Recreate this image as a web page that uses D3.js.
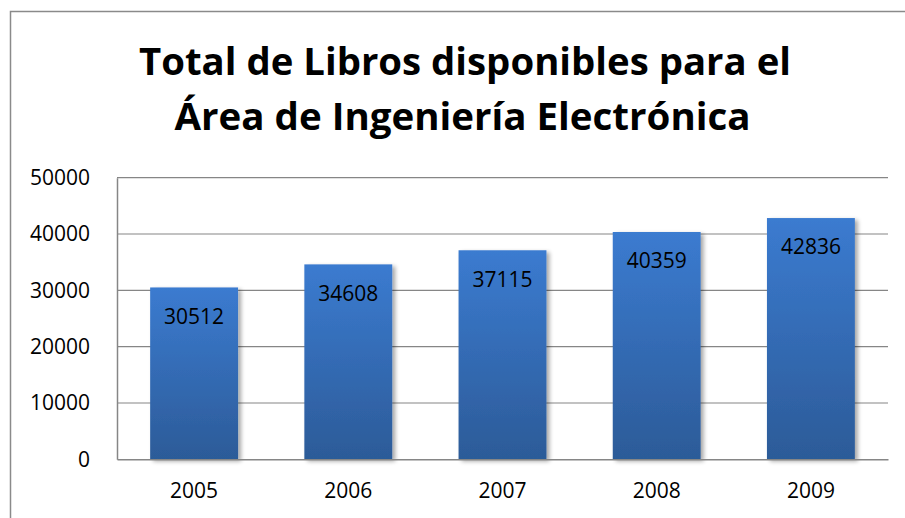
<!DOCTYPE html>
<html>
<head>
<meta charset="utf-8">
<script src="https://cdn.jsdelivr.net/npm/d3@7"></script>
<style>
  html, body { margin: 0; padding: 0; background: #fff; }
  svg { display: block; }
</style>
</head>
<body>
<svg id="chart" width="905" height="518"></svg>
<script>
const titleLines = ["Total de Libros disponibles para el", "Área de Ingeniería Electrónica"];
const years = ["2005", "2006", "2007", "2008", "2009"];
const values = [30512, 34608, 37115, 40359, 42836];
const yTicks = [0, 10000, 20000, 30000, 40000, 50000];

const W = 905, H = 518;
const plot = { left: 117, right: 888, top: 177.7, bottom: 459.3 };
const font = "'Open Sans', 'Noto Sans', 'Liberation Sans', sans-serif";

const svg = d3.select("#chart");

// defs: gradient + shadow
const defs = svg.append("defs");
const grad = defs.append("linearGradient").attr("id", "barGrad")
  .attr("x1", 0).attr("y1", 0).attr("x2", 0).attr("y2", 1);
grad.append("stop").attr("offset", "0%").attr("stop-color", "#3b7bd0");
grad.append("stop").attr("offset", "100%").attr("stop-color", "#2c5b98");

const filt = defs.append("filter").attr("id", "shadow")
  .attr("x", "-10%").attr("y", "-10%").attr("width", "130%").attr("height", "130%");
filt.append("feGaussianBlur").attr("in", "SourceAlpha").attr("stdDeviation", 2).attr("result", "blur");
filt.append("feOffset").attr("in", "blur").attr("dx", 3).attr("dy", 2).attr("result", "off");
filt.append("feComponentTransfer").attr("in", "off").attr("result", "shadowA")
  .append("feFuncA").attr("type", "linear").attr("slope", 0.35);
const merge = filt.append("feMerge");
merge.append("feMergeNode").attr("in", "shadowA");
merge.append("feMergeNode").attr("in", "SourceGraphic");

// outer chart border (extends past right/bottom edges)
svg.append("rect")
  .attr("x", 10.5).attr("y", 11.5)
  .attr("width", W + 20).attr("height", H + 20)
  .attr("fill", "#fff").attr("stroke", "#8a8a8a").attr("stroke-width", 1.5);

// title
const titleG = svg.append("g");
const titleSpecs = [
  { y: 75, x: 465, len: 652 },
  { y: 130, x: 462.5, len: 576 }
];
titleLines.forEach((t, i) => {
  titleG.append("text")
    .attr("x", titleSpecs[i].x).attr("y", titleSpecs[i].y)
    .attr("text-anchor", "middle")
    .attr("font-family", font).attr("font-weight", "bold")
    .attr("font-size", 38)
    .attr("textLength", titleSpecs[i].len)
    .attr("lengthAdjust", "spacingAndGlyphs")
    .attr("fill", "#000")
    .text(t);
});

// scales
const x = d3.scaleBand().domain(years).range([plot.left, plot.right])
  .paddingInner(0.43).paddingOuter(0.215);
const y = d3.scaleLinear().domain([0, 50000]).range([plot.bottom, plot.top]);

// gridlines
svg.append("g")
  .selectAll("line").data(yTicks.filter(d => d > 0)).join("line")
  .attr("x1", plot.left).attr("x2", plot.right)
  .attr("y1", d => y(d)).attr("y2", d => y(d))
  .attr("stroke", "#868686").attr("stroke-width", 1.2);

// y axis
const yAxis = d3.axisLeft(y).tickValues(yTicks).tickSize(0).tickPadding(27)
  .tickFormat(d3.format("d"));
const yg = svg.append("g").attr("transform", `translate(${plot.left},0)`).call(yAxis);
yg.select(".domain").attr("stroke", "#868686").attr("stroke-width", 1.5);
yg.selectAll("text").attr("font-family", font).attr("font-size", 21).attr("fill", "#000");

// bars
svg.append("g")
  .selectAll("rect").data(values).join("rect")
  .attr("x", (d, i) => x(years[i]))
  .attr("width", x.bandwidth())
  .attr("y", d => y(d))
  .attr("height", d => y(0) - y(d))
  .attr("fill", "url(#barGrad)")
  .attr("filter", "url(#shadow)");

// x axis
const xAxis = d3.axisBottom(x).tickSize(0).tickPadding(24);
const xg = svg.append("g").attr("transform", `translate(0,${plot.bottom})`).call(xAxis);
xg.select(".domain").attr("stroke", "#868686").attr("stroke-width", 1.5);
xg.selectAll("text").attr("font-family", font).attr("font-size", 21).attr("fill", "#000");

// value labels
svg.append("g")
  .selectAll("text").data(values).join("text")
  .attr("x", (d, i) => x(years[i]) + x.bandwidth() / 2)
  .attr("y", d => y(d) + 29)
  .attr("dy", "0.35em")
  .attr("text-anchor", "middle")
  .attr("font-family", font).attr("font-size", 21).attr("fill", "#000")
  .text(d => d);
</script>
</body>
</html>
